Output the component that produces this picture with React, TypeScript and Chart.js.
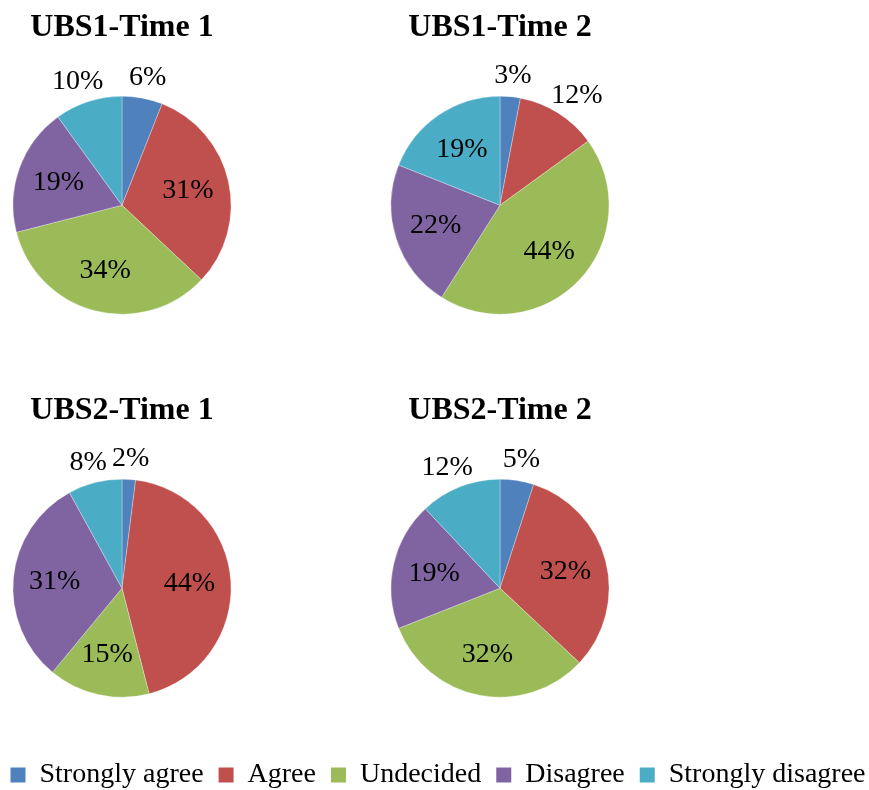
import React, { useEffect, useRef } from 'react';
import { Chart, registerables } from 'chart.js';
Chart.register(...registerables);

const categories = ['Strongly agree', 'Agree', 'Undecided', 'Disagree', 'Strongly disagree'];
const colors = ['#4F81BD', '#C0504D', '#9BBB59', '#8064A2', '#4BACC6'];
const titles = ['UBS1-Time 1', 'UBS1-Time 2', 'UBS2-Time 1', 'UBS2-Time 2'];
const ubs1Time1 = [6, 31, 34, 19, 10];
const ubs1Time2 = [3, 12, 44, 22, 19];
const ubs2Time1 = [2, 44, 15, 31, 8];
const ubs2Time2 = [5, 32, 32, 19, 12];

const FONT = "'Liberation Serif', 'Times New Roman', serif";

const labelPlugin = {
  id: 'pctLabels',
  afterDatasetsDraw(chart: any) {
    const ctx = chart.ctx;
    const meta = chart.getDatasetMeta(0);
    const data = chart.data.datasets[0].data as number[];
    ctx.save();
    ctx.font = `28px ${FONT}`;
    ctx.fillStyle = '#000';
    ctx.textAlign = 'center';
    ctx.textBaseline = 'middle';
    meta.data.forEach((arc: any, i: number) => {
      const { x, y, startAngle, endAngle, outerRadius } = arc.getProps(
        ['x', 'y', 'startAngle', 'endAngle', 'outerRadius'],
        true
      );
      const v = data[i];
      const mid = (startAngle + endAngle) / 2;
      const text = `${v}%`;
      const c = Math.cos(mid);
      const s = Math.sin(mid);
      let tx: number;
      let ty: number;
      if (v <= 12) {
        const w = ctx.measureText(text).width;
        const h = 24;
        const d = outerRadius * 1.08;
        tx = x + c * d + (c * w) / 2;
        ty = y + s * d + (s * h) / 2;
      } else {
        const d = outerRadius * 0.62;
        tx = x + c * d;
        ty = y + s * d;
      }
      ctx.fillText(text, tx, ty);
    });
    ctx.restore();
  },
};

function PieChart(props: { title: string; values: number[]; left: number; top: number; width: number; height: number }) {
  const ref = useRef<HTMLCanvasElement | null>(null);
  useEffect(() => {
    if (!ref.current) return;
    const chart = new Chart(ref.current, {
      type: 'pie',
      data: {
        labels: categories,
        datasets: [
          {
            data: props.values,
            backgroundColor: colors,
            borderColor: 'rgba(255,255,255,0.6)',
            borderWidth: 0.5,
            radius: 109,
          } as any,
        ],
      },
      options: {
        responsive: false,
        animation: false,
        events: [],
        plugins: {
          legend: { display: false },
          tooltip: { enabled: false },
          title: {
            display: true,
            text: props.title,
            color: '#000',
            font: { family: FONT, size: 32, weight: 'bold' },
            padding: { top: 9, bottom: 6 },
          },
        },
      },
      plugins: [labelPlugin],
    });
    return () => chart.destroy();
  }, []);
  return (
    <div style={{ position: 'absolute', left: props.left, top: props.top, width: props.width, height: props.height }}>
      <canvas ref={ref} width={props.width} height={props.height} />
    </div>
  );
}

function LegendChart(props: { left: number; top: number; width: number; height: number }) {
  const ref = useRef<HTMLCanvasElement | null>(null);
  useEffect(() => {
    if (!ref.current) return;
    const chart = new Chart(ref.current, {
      type: 'pie',
      data: {
        labels: categories,
        datasets: [
          {
            data: [1, 1, 1, 1, 1],
            backgroundColor: colors,
            borderWidth: 0,
            radius: 0,
          } as any,
        ],
      },
      options: {
        responsive: false,
        animation: false,
        events: [],
        plugins: {
          tooltip: { enabled: false },
          legend: {
            display: true,
            position: 'top',
            labels: {
              color: '#000',
              font: { family: FONT, size: 28 },
              boxWidth: 15,
              boxHeight: 15,
              padding: 15,
            },
          },
        },
      },
    });
    return () => chart.destroy();
  }, []);
  return (
    <div style={{ position: 'absolute', left: props.left, top: props.top, width: props.width, height: props.height }}>
      <canvas ref={ref} width={props.width} height={props.height} />
    </div>
  );
}

export default function App() {
  return (
    <div style={{ position: 'absolute', left: 0, top: 0, width: 869, height: 790, overflow: 'hidden', background: '#fff' }}>
      <PieChart title={titles[0]} values={ubs1Time1} left={0} top={0} width={244} height={357} />
      <PieChart title={titles[1]} values={ubs1Time2} left={350} top={0} width={300} height={357} />
      <PieChart title={titles[2]} values={ubs2Time1} left={0} top={383} width={244} height={357} />
      <PieChart title={titles[3]} values={ubs2Time2} left={350} top={383} width={300} height={357} />
      <LegendChart left={-62} top={746} width={1000} height={140} />
    </div>
  );
}
